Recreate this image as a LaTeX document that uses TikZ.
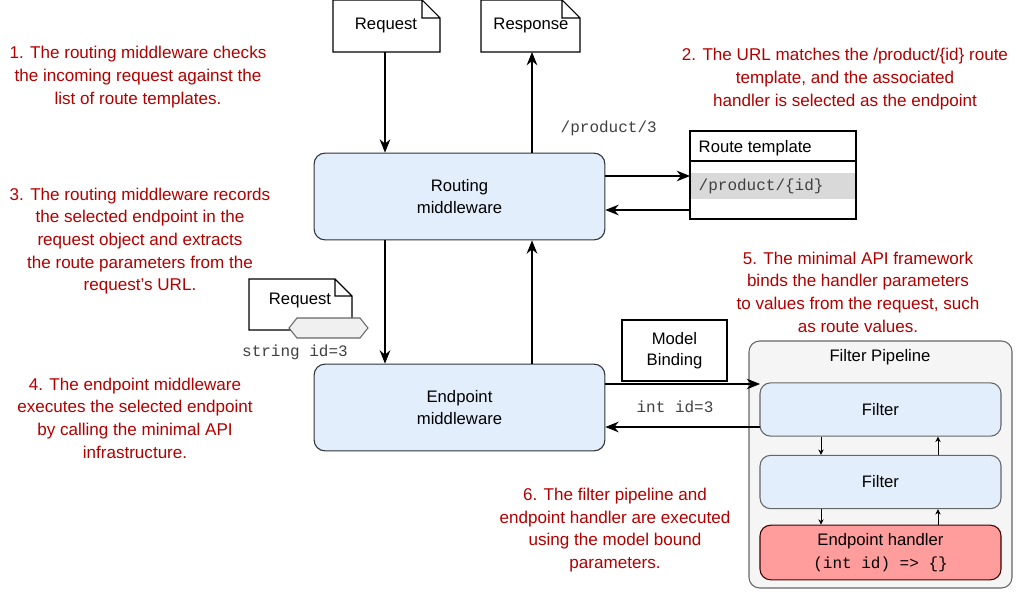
\documentclass[tikz,border=0pt]{standalone}
\usepackage{fontspec}
\setmainfont{Liberation Sans}
\setmonofont{Liberation Mono}
\usetikzlibrary{shapes.geometric,arrows.meta}
\definecolor{noteRed}{HTML}{B20000}
\definecolor{mwBlue}{HTML}{E3EEFC}
\definecolor{mwLine}{HTML}{2F3338}
\definecolor{handlerRed}{HTML}{FF9C9C}
\definecolor{pipeGray}{HTML}{F5F5F5}
\tikzset{
  mw/.style={draw=mwLine, thick, fill=mwBlue, rounded corners=8pt, align=center, font=\fontsize{12.5}{17}\selectfont},
  flow/.style={-{Stealth[length=10pt,width=8pt]}, thick},
  small flow/.style={-{Stealth[length=4pt,width=4pt]}, semithick},
  note/.style={text=noteRed, align=center, font=\fontsize{12.8}{17}\selectfont},
  mono/.style={font=\ttfamily\fontsize{12}{13}\selectfont, text=black!75},
  doc/.style={draw, thick, fill=white}
}
\begin{document}
\begin{tikzpicture}[x=0.75pt, y=-0.75pt, font=\fontsize{12.5}{16}\selectfont]
  \useasboundingbox (0,0) rectangle (1017,592);
  % documents
  \draw[doc] (333,0) -- (422,0) -- (440,18) -- (440,52) -- (333,52) -- cycle (422,0) -- (422,18) -- (440,18);
  \node (request) at (386,25) {Request};
  \draw[doc] (481,0) -- (562,0) -- (580,18) -- (580,52) -- (481,52) -- cycle (562,0) -- (562,18) -- (580,18);
  \node (response) at (531,25) {Response};
  % middleware
  \node[mw, minimum width=218pt, minimum height=65pt] (routing) at (459.5,196.5) {Routing\\middleware};
  \node[mw, minimum width=218pt, minimum height=65pt] (endpoint) at (459.5,407.5) {Endpoint\\middleware};
  \coordinate (reqbot) at (385,52);
  \coordinate (respbot) at (532,52);
  \draw[flow] (reqbot) -- (reqbot |- routing.north);
  \draw[flow] (respbot |- routing.north) -- (respbot);
  \draw[flow] (reqbot |- routing.south) -- (reqbot |- endpoint.north);
  \draw[flow] (respbot |- endpoint.north) -- (respbot |- routing.south);
  % route template
  \fill[black!15] (690,173) rectangle (856,199);
  \draw[thick] (690,131) rectangle (856,219) (690,161) -- (856,161);
  \node[anchor=west] (rthead) at (694,148) {Route template};
  \node[mono, anchor=west] (rtrow) at (694,186) {/product/\{id\}};
  \node[mono, anchor=west] (url) at (556,128) {/product/3};
  \coordinate (rt1) at (690,176);
  \coordinate (rt2) at (690,210);
  \draw[flow] (rt1 -| routing.east) -- (rt1);
  \draw[flow] (rt2) -- (rt2 -| routing.east);
  % request with hexagon
  \draw[doc] (249,279) -- (335,279) -- (352,296) -- (352,330) -- (249,330) -- cycle (335,279) -- (335,296) -- (352,296);
  \node (request2) at (300,300) {Request};
  \draw[thick, draw=black!60, fill=black!6] (289,328) -- (297,318) -- (360,318) -- (368,328) -- (360,338) -- (297,338) -- cycle;
  \node[mono] (strid) at (295,352) {string id=3};
  % model binding
  \node[draw, thick, minimum width=78.75pt, minimum height=45.75pt, align=center] (binding) at (674.5,350.5) {Model\\Binding};
  % filter pipeline
  \draw[thick, draw=black!60, fill=pipeGray, rounded corners=8pt] (749,341) rectangle (1012,588);
  \node (pipetitle) at (880,357) {Filter Pipeline};
  \node[mw, draw=black!60, minimum width=180.75pt, minimum height=40pt] (filter1) at (880.5,409.5) {Filter};
  \node[mw, draw=black!60, minimum width=180.75pt, minimum height=40pt] (filter2) at (880.5,482) {Filter};
  \node[mw, draw=black!75!red, fill=handlerRed, minimum width=180.75pt, minimum height=41pt, inner sep=0pt] (handler) at (880.5,552.5) {Endpoint handler\\{\ttfamily\fontsize{12}{16}\selectfont (int id) => \{\}}};
  \coordinate (fdown) at (821,0);
  \coordinate (fup) at (938,0);
  \draw[small flow] (fdown |- filter1.south) -- (fdown |- filter2.north);
  \draw[small flow] (fup |- filter2.north) -- (fup |- filter1.south);
  \draw[small flow] (fdown |- filter2.south) -- (fdown |- handler.north);
  \draw[small flow] (fup |- handler.north) -- (fup |- filter2.south);
  \coordinate (ef1) at (760,384);
  \coordinate (ef2) at (760,427);
  \draw[flow] (ef1 -| endpoint.east) -- (ef1);
  \draw[flow] (ef2) -- (ef2 -| endpoint.east);
  \node[mono] (intid) at (675,407) {int id=3};
  % notes
  \node[note] (note1) at (138,77) {1. The routing middleware checks\\the incoming request against the\\list of route templates.};
  \node[note] (note2) at (845,79) {2. The URL matches the /product/\{id\} route\\template, and the associated\\handler is selected as the endpoint};
  \node[note] (note3) at (140,241) {3. The routing middleware records\\the selected endpoint in the\\request object and extracts\\the route parameters from the\\request's URL.};
  \node[note] (note4) at (135,418) {4. The endpoint middleware\\executes the selected endpoint\\by calling the minimal API\\infrastructure.};
  \node[note] (note5) at (858,292) {5. The minimal API framework\\binds the handler parameters\\to values from the request, such\\as route values.};
  \node[note] (note6) at (615,530) {6. The filter pipeline and\\endpoint handler are executed\\using the model bound\\parameters.};
\end{tikzpicture}
\end{document}
